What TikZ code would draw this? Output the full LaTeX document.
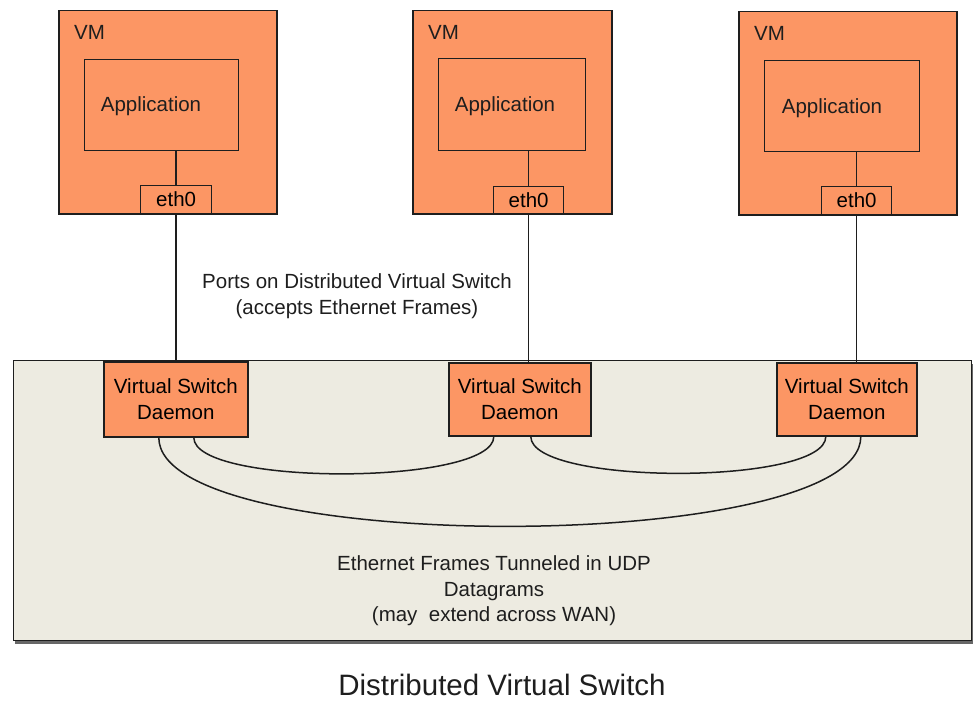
\documentclass[tikz,border=0pt]{standalone}
\usepackage{fontspec}
\setmainfont{Liberation Sans}
\usetikzlibrary{shadows}
\definecolor{vmorange}{RGB}{252,150,100}
\definecolor{panelgray}{RGB}{237,235,225}
\definecolor{inkc}{RGB}{30,30,30}
\tikzset{
  vmbox/.style={draw=inkc, line width=1.5pt, fill=vmorange, inner sep=0pt, anchor=north west},
  appbox/.style={draw=inkc, line width=1.2pt, inner sep=0pt, anchor=north west},
  ethbox/.style={draw=inkc, line width=1.2pt, inner sep=0pt, anchor=north west, font=\fontsize{20.5}{22}\selectfont},
  vsdbox/.style={draw=inkc, line width=1.6pt, fill=vmorange, inner sep=0pt, anchor=north west, align=center, font=\fontsize{20.5}{25.5}\selectfont},
  txt/.style={text=inkc, inner sep=0pt, font=\fontsize{20.5}{25.5}\selectfont},
  wire/.style={draw=inkc, line width=1.5pt},
}
\begin{document}
\begin{tikzpicture}[x=1pt,y=-1pt]
\useasboundingbox (0,0) rectangle (976,701);
% panel
\node[draw=inkc, line width=1.2pt, fill=panelgray, inner sep=0pt, anchor=north west,
      minimum width=958pt, minimum height=280pt,
      drop shadow={shadow xshift=1.5pt, shadow yshift=-3.5pt, opacity=0.85, fill=black!70}] (panel) at (13,360) {};
% VMs
\node[vmbox, minimum width=218pt, minimum height=203pt] (vm1) at (58,10) {};
\node[vmbox, minimum width=199pt, minimum height=203pt] (vm2) at (412,10) {};
\node[vmbox, minimum width=218pt, minimum height=203pt] (vm3) at (738,11) {};
\node[txt, anchor=west] (vml1) at (74,32) {VM};
\node[txt, anchor=west] (vml2) at (428,32) {VM};
\node[txt, anchor=west] (vml3) at (754,33) {VM};
% applications
\node[appbox, minimum width=154pt, minimum height=91pt] (app1) at (84,59) {};
\node[appbox, minimum width=147pt, minimum height=92pt] (app2) at (438,58) {};
\node[appbox, minimum width=155pt, minimum height=91pt] (app3) at (764,60) {};
\node[txt] (appl1) at (151,106) {Application};
\node[txt] (appl2) at (505,106) {Application};
\node[txt] (appl3) at (832,108) {Application};
% eth0
\node[ethbox, minimum width=71pt, minimum height=28pt] (eth1) at (140,185) {eth0};
\node[ethbox, minimum width=70pt, minimum height=27pt] (eth2) at (493,186) {eth0};
\node[ethbox, minimum width=70pt, minimum height=28pt] (eth3) at (821,186) {eth0};
\draw[wire] (app1.south -| eth1.north) -- (eth1.north);
\draw[wire] (app2.south -| eth2.north) -- (eth2.north);
\draw[wire] (app3.south -| eth3.north) -- (eth3.north);
% virtual switch daemons
\node[vsdbox, minimum width=144pt, minimum height=75pt] (vsd1) at (103,361) {Virtual Switch\\Daemon};
\node[vsdbox, minimum width=142pt, minimum height=73pt] (vsd2) at (448,362) {Virtual Switch\\Daemon};
\node[vsdbox, minimum width=140pt, minimum height=73pt] (vsd3) at (776,362) {Virtual Switch\\Daemon};
% ports
\draw[wire] (eth1.south) -- (eth1.south |- vsd1.north);
\draw[wire] (eth2.south) -- (eth2.south |- vsd2.north);
\draw[wire] (eth3.south) -- (eth3.south |- vsd3.north);
% tunnels
\coordinate (a1) at ([xshift=18pt]vsd1.south);
\coordinate (a2) at ([xshift=-17pt]vsd1.south);
\coordinate (b1) at ([xshift=-26pt]vsd2.south);
\coordinate (b2) at ([xshift=11pt]vsd2.south);
\coordinate (c1) at ([xshift=-21pt]vsd3.south);
\coordinate (c2) at ([xshift=14pt]vsd3.south);
\draw[wire] (a1) .. controls ([yshift=-49pt]a1) and ([yshift=-49pt]b1) .. (b1);
\draw[wire] (b2) .. controls ([yshift=-49pt]b2) and ([yshift=-49pt]c1) .. (c1);
\draw[wire] (a2) .. controls ([yshift=-119pt]a2) and ([yshift=-119pt]c2) .. (c2);
% labels
\node[txt, align=center] (ports) at (357,296) {Ports on Distributed Virtual Switch\\(accepts Ethernet Frames)};
\node[txt, align=center] (udp) at (494,591) {Ethernet Frames Tunneled in UDP\\Datagrams\\(may\ \ extend across WAN)};
\node[text=inkc, inner sep=0pt, font=\fontsize{29.5}{31}\selectfont] (title) at (502,685) {Distributed Virtual Switch};
\end{tikzpicture}
\end{document}
